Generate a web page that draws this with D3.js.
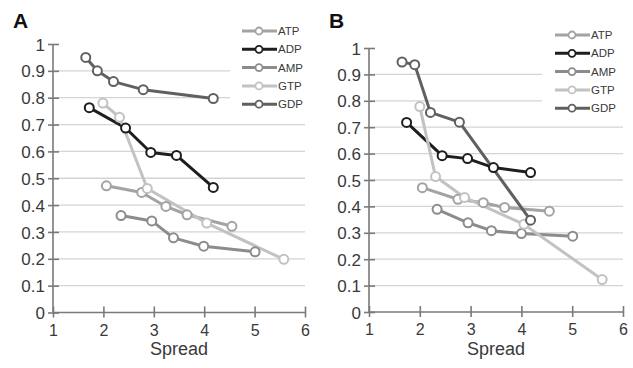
<html>
<script src="https://d3js.org/d3.v7.min.js"></script>
<style>
body {margin:0; background:#fff;}
text {font-family: "Liberation Sans", Arial, sans-serif;}
</style>
<body>
<svg width=633 height=368></svg>
<script>
var series = ['ATP','ADP','AMP','GTP','GDP'];
var colors = ['#a3a3a3','#1e1e1e','#8c8c8c','#c2c2c2','#606060'];
var yTicks = [0,0.1,0.2,0.3,0.4,0.5,0.6,0.7,0.8,0.9,1];
var xTicks = [1,2,3,4,5,6];

// panel A: [spread, value] per series
var atpA = [[2.06,0.472],[2.76,0.447],[3.24,0.395],[3.66,0.364],[4.55,0.321]];
var adpA = [[1.72,0.763],[2.44,0.687],[2.94,0.596],[3.45,0.585],[4.18,0.466]];
var ampA = [[2.35,0.361],[2.96,0.341],[3.39,0.278],[3.99,0.247],[5.01,0.226]];
var gtpA = [[1.99,0.780],[2.32,0.727],[2.87,0.462],[4.05,0.333],[5.58,0.198]];
var gdpA = [[1.65,0.950],[1.88,0.900],[2.20,0.860],[2.79,0.830],[4.18,0.797]];

// panel B
var atpB = [[2.05,0.471],[2.75,0.427],[3.25,0.414],[3.67,0.396],[4.55,0.382]];
var adpB = [[1.74,0.718],[2.44,0.592],[2.94,0.581],[3.45,0.547],[4.18,0.528]];
var ampB = [[2.34,0.389],[2.95,0.338],[3.41,0.308],[4.00,0.297],[5.01,0.287]];
var gtpB = [[2.00,0.778],[2.31,0.513],[2.88,0.434],[4.05,0.332],[5.59,0.123]];
var gdpB = [[1.65,0.947],[1.90,0.937],[2.21,0.756],[2.78,0.719],[4.18,0.348]];

var svg = d3.select("svg");

function panel(label, data, x0, x1, y0, y1, lx, ly, gridEnd) {
  var x = d3.scaleLinear().domain([1,6]).range([x0,x1]);
  var y = d3.scaleLinear().domain([0,1]).range([y0,y1]);
  var g = svg.append("g");

  // gridlines
  g.selectAll(".grid").data(yTicks.filter(function(d){return d>0 && d<1;}))
    .enter().append("line")
    .attr("x1", x0).attr("x2", function(d){ return d>=0.8 ? gridEnd : x1; })
    .attr("y1", function(d){return y(d);}).attr("y2", function(d){return y(d);})
    .attr("stroke","#d4d4d4").attr("stroke-width",1.3);

  // axes
  var ya = g.append("g").attr("transform","translate("+x0+",0)")
    .call(d3.axisLeft(y).tickValues(yTicks).tickSize(6).tickFormat(d3.format("~g")));
  ya.selectAll(".tick line").attr("x1",6).attr("x2",-5);
  var xa = g.append("g").attr("transform","translate(0,"+y0+")")
    .call(d3.axisBottom(x).tickValues(xTicks).tickSize(6).tickFormat(d3.format("d")));
  xa.selectAll(".tick line").attr("y1",-6).attr("y2",5);
  g.selectAll(".domain").attr("stroke","#7a7a7a").attr("stroke-width",1.6);
  g.selectAll(".tick line").attr("stroke","#7a7a7a").attr("stroke-width",1.6);
  g.selectAll(".tick text").attr("fill","#3a3a3a").style("font-size","16px")
    .style("font-family","Liberation Sans, Arial, sans-serif");
  ya.selectAll(".tick text").attr("x",-8).attr("dy","0.36em").style("font-size","17px");
  xa.selectAll(".tick text").attr("y",12);
  ya.select(".domain").attr("d","M0,"+y0+"V"+y1);
  xa.select(".domain").attr("d","M"+x0+",0H"+x1);

  g.append("text").attr("x",(x0+x1)/2).attr("y",355).attr("text-anchor","middle")
    .attr("fill","#3a3a3a").style("font-size","18px").text("Spread");
  g.append("text").attr("x",x0-40).attr("y",28).attr("font-weight","bold")
    .attr("fill","#111").style("font-size","21px").text(label);

  var line = d3.line().x(function(d){return x(d[0]);}).y(function(d){return y(d[1]);});
  data.forEach(function(s, i) {
    g.append("path").datum(s).attr("d", line).attr("fill","none")
      .attr("stroke", colors[i]).attr("stroke-width",3).attr("stroke-linejoin","round");
  });
  data.forEach(function(s, i) {
    g.selectAll(null).data(s).enter().append("circle")
      .attr("cx", function(d){return x(d[0]);}).attr("cy", function(d){return y(d[1]);})
      .attr("r",4.5).attr("fill","#fff").attr("stroke",colors[i]).attr("stroke-width",2);
  });

  // legend
  var lg = g.append("g").attr("transform","translate("+lx+","+ly+")");
  lg.append("rect").attr("x",-10).attr("y",-12).attr("width",78).attr("height",94).attr("fill","#fff");
  series.forEach(function(name, i) {
    var yy = i*18.3;
    lg.append("line").attr("x1",0).attr("x2",35).attr("y1",yy).attr("y2",yy)
      .attr("stroke",colors[i]).attr("stroke-width",3);
    lg.append("circle").attr("cx",17).attr("cy",yy).attr("r",3.5)
      .attr("fill","#fff").attr("stroke",colors[i]).attr("stroke-width",1.8);
    lg.append("text").attr("x",36).attr("y",yy).attr("dy","0.36em")
      .attr("fill","#3a3a3a").style("font-size","11.5px").text(name);
  });
}

panel("A", [atpA, adpA, ampA, gtpA, gdpA], 53, 305, 312.5, 44, 242, 31, 230);
panel("B", [atpB, adpB, ampB, gtpB, gdpB], 369, 623, 312, 48, 555, 35, 542);
</script>
</body>
</html>
